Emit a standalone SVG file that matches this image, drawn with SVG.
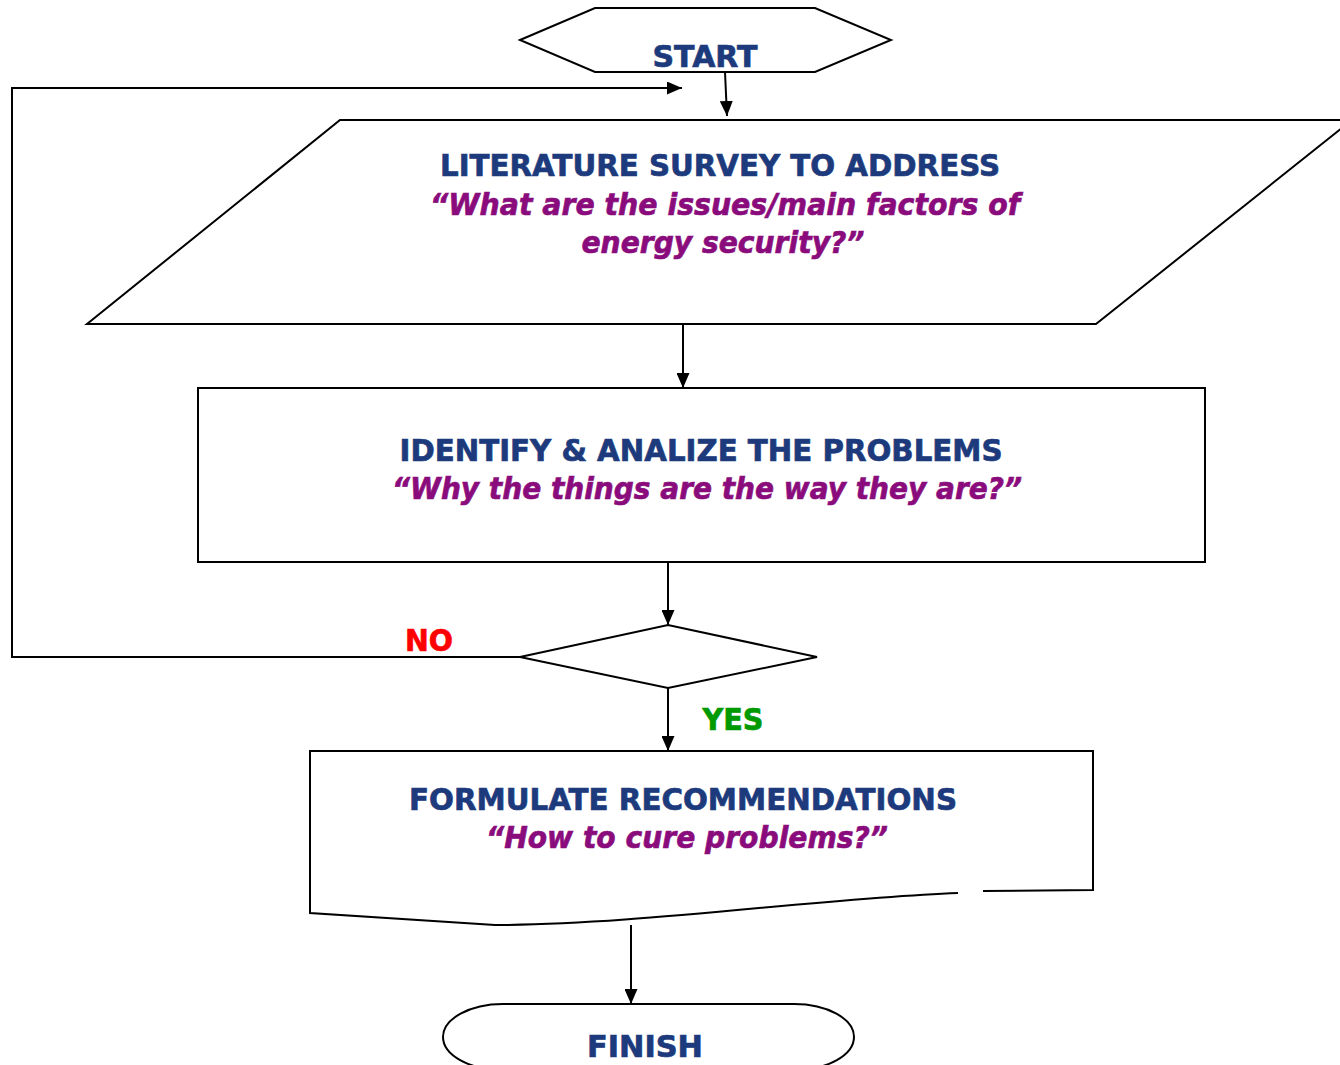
<svg xmlns="http://www.w3.org/2000/svg" width="1340" height="1065" viewBox="0 0 1340 1065">
<defs>
<marker id="ah" markerWidth="15" markerHeight="13" refX="15" refY="6.5" orient="auto" markerUnits="userSpaceOnUse" viewBox="0 0 15 13">
<path d="M0,0 L15,6.5 L0,13 Z" fill="#000"/>
</marker>
<style>
.s{fill:#fff;stroke:#000;stroke-width:2}
.c{fill:none;stroke:#000;stroke-width:2}
.t{font-family:"DejaVu Sans","Liberation Sans",sans-serif;font-weight:bold;font-size:31px;fill:#1c3a7c;stroke:#1c3a7c;stroke-width:0.7}
.q{font-family:"DejaVu Sans","Liberation Sans",sans-serif;font-weight:bold;font-style:italic;font-size:31px;fill:#8a0c7c;stroke:#8a0c7c;stroke-width:0.7}
.l{font-family:"DejaVu Sans","Liberation Sans",sans-serif;font-weight:bold;font-size:31px;stroke-width:0.7}
</style>
</defs>
<rect width="1340" height="1065" fill="#fff"/>
<g id="connectors">
<polyline class="c" points="520,657 12,657 12,88 682,88" marker-end="url(#ah)"/>
<line class="c" x1="725" y1="72" x2="727" y2="116" marker-end="url(#ah)"/>
<line class="c" x1="683" y1="324" x2="683" y2="388" marker-end="url(#ah)"/>
<line class="c" x1="668" y1="562" x2="668" y2="625" marker-end="url(#ah)"/>
<line class="c" x1="668" y1="688" x2="668" y2="751" marker-end="url(#ah)"/>
<line class="c" x1="631" y1="925" x2="631" y2="1004" marker-end="url(#ah)"/>
</g>
<g id="start">
<polygon class="s" points="520,40 595,8 815,8 891,40 815,72 595,72"/>
<text class="t" x="705" y="67" text-anchor="middle" textLength="105" lengthAdjust="spacingAndGlyphs">START</text>
</g>
<g id="survey">
<polygon class="s" points="340,120 1352,120 1096,324 87,324"/>
<text class="t" x="720" y="176" text-anchor="middle" textLength="560" lengthAdjust="spacingAndGlyphs">LITERATURE SURVEY TO ADDRESS</text>
<text class="q" x="725" y="215" text-anchor="middle" textLength="590" lengthAdjust="spacingAndGlyphs">“What are the issues/main factors of</text>
<text class="q" x="723" y="253" text-anchor="middle" textLength="283" lengthAdjust="spacingAndGlyphs">energy security?”</text>
</g>
<g id="identify">
<rect class="s" x="198" y="388" width="1007" height="174"/>
<text class="t" x="701" y="461" text-anchor="middle" textLength="603" lengthAdjust="spacingAndGlyphs">IDENTIFY &amp; ANALIZE THE PROBLEMS</text>
<text class="q" x="707" y="499" text-anchor="middle" textLength="630" lengthAdjust="spacingAndGlyphs">“Why the things are the way they are?”</text>
</g>
<g id="decision">
<polygon class="s" points="520,657 668,625 817,657 668,688"/>
<text class="l" x="429" y="651" text-anchor="middle" fill="#ff0000" stroke="#ff0000" textLength="48" lengthAdjust="spacingAndGlyphs">NO</text>
<text class="l" x="733" y="730" text-anchor="middle" fill="#009900" stroke="#009900" textLength="61" lengthAdjust="spacingAndGlyphs">YES</text>
</g>
<g id="recommend">
<path d="M310,751 H1093 V890 L983,891 L958,893 C820,898 640,925 495,925 L310,913 Z" fill="#fff" stroke="none"/>
<path class="c" d="M983,891 L1093,890 V751 H310 V913 L495,925 C640,925 820,898 958,893"/>
<text class="t" x="683" y="810" text-anchor="middle" textLength="548" lengthAdjust="spacingAndGlyphs">FORMULATE RECOMMENDATIONS</text>
<text class="q" x="687" y="848" text-anchor="middle" textLength="402" lengthAdjust="spacingAndGlyphs">“How to cure problems?”</text>
</g>
<g id="finish">
<path class="s" d="M503,1004 H794 A60 33 0 0 1 794,1070 H503 A60 33 0 0 1 503,1004 Z"/>
<text class="t" x="645" y="1057" text-anchor="middle" textLength="116" lengthAdjust="spacingAndGlyphs">FINISH</text>
</g>
</svg>
